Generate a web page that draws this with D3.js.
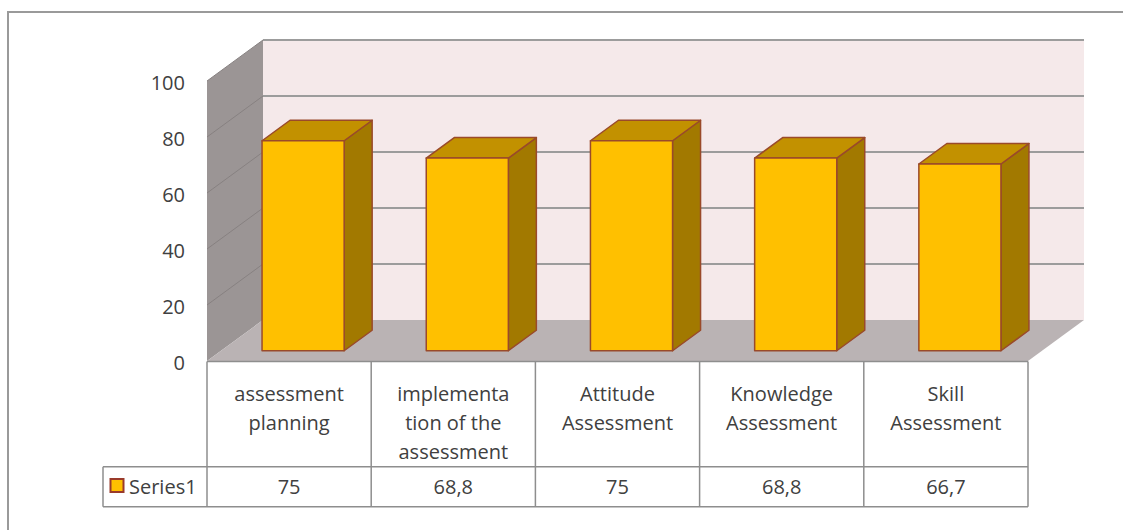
<!DOCTYPE html>
<html>
<head>
<meta charset="utf-8">
<script src="https://cdn.jsdelivr.net/npm/d3@7"></script>
<style>
  body { margin: 0; background: #fff; }
  svg { display: block; font-family: "Open Sans", sans-serif; }
  text { fill: #404040; }
</style>
</head>
<body>
<svg id="chart" width="1123" height="530"></svg>
<script>
const categories = ['assessment planning', 'implementation of the assessment', 'Attitude Assessment', 'Knowledge Assessment', 'Skill Assessment'];
const categoryLines = [
  ['assessment', 'planning'],
  ['implementa', 'tion of the', 'assessment'],
  ['Attitude', 'Assessment'],
  ['Knowledge', 'Assessment'],
  ['Skill', 'Assessment']
];
const values = [75, 68.8, 75, 68.8, 66.7];
const valueLabels = ['75', '68,8', '75', '68,8', '66,7'];
const yTicks = [0, 20, 40, 60, 80, 100];
const seriesName = 'Series1';

const svg = d3.select('#chart');

// plot geometry (front plane + depth offset)
const left = 207, right = 1028, floorY = 361, topY = 81;
const depthX = 56, depthY = -41;

const x = d3.scaleBand().domain(categories).range([left, right]);
const xBar = d3.scaleBand().domain(categories).range([left, right]).paddingInner(0.5).paddingOuter(0.25);
const y = d3.scaleLinear().domain([0, 100]).range([floorY, topY]);

// project a point with depth z (0 = front, 1 = back wall)
const P = (px, v, z) => [px + z * depthX, y(v) + z * depthY];
const poly = pts => pts.map(p => p.join(',')).join(' ');

// outer frame
svg.append('rect')
  .attr('x', 8).attr('y', 12).attr('width', 1140).attr('height', 540)
  .attr('fill', 'none').attr('stroke', '#9a9a9a').attr('stroke-width', 2);

// back wall
svg.append('polygon')
  .attr('points', poly([P(left, 0, 1), P(right, 0, 1), P(right, 100, 1), P(left, 100, 1)]))
  .attr('fill', '#f5e9ea');

// side wall
svg.append('polygon')
  .attr('points', poly([P(left, 0, 0), P(left, 0, 1), P(left, 100, 1), P(left, 100, 0)]))
  .attr('fill', '#9b9595');

// floor
svg.append('polygon')
  .attr('points', poly([P(left, 0, 0), P(right, 0, 0), P(right, 0, 1), P(left, 0, 1)]))
  .attr('fill', '#bab3b4');

// gridlines on back and side walls
const grid = svg.append('g');
yTicks.filter(d => d > 0).forEach(v => {
  grid.append('line')
    .attr('x1', P(left, v, 1)[0]).attr('y1', P(left, v, 1)[1])
    .attr('x2', P(right, v, 1)[0]).attr('y2', P(right, v, 1)[1])
    .attr('stroke', '#9c9c9c').attr('stroke-width', 2);
  grid.append('line')
    .attr('x1', P(left, v, 0)[0]).attr('y1', P(left, v, 0)[1])
    .attr('x2', P(left, v, 1)[0]).attr('y2', P(left, v, 1)[1])
    .attr('stroke', '#878181').attr('stroke-width', 1);
});

// bars
const z0 = 0.25, z1 = 0.75;
const barStroke = '#9a4a2a';
const bars = svg.append('g').selectAll('g')
  .data(categories.map((c, i) => ({ c, v: values[i] })))
  .join('g');

bars.append('polygon')
  .attr('points', d => {
    const x0 = xBar(d.c), x1 = x0 + xBar.bandwidth();
    return poly([P(x1, 0, z0), P(x1, 0, z1), P(x1, d.v, z1), P(x1, d.v, z0)]);
  })
  .attr('fill', '#a27900').attr('stroke', barStroke).attr('stroke-width', 1.5).attr('stroke-linejoin', 'round');

bars.append('polygon')
  .attr('points', d => {
    const x0 = xBar(d.c), x1 = x0 + xBar.bandwidth();
    return poly([P(x0, d.v, z0), P(x1, d.v, z0), P(x1, d.v, z1), P(x0, d.v, z1)]);
  })
  .attr('fill', '#c29100').attr('stroke', barStroke).attr('stroke-width', 1.5).attr('stroke-linejoin', 'round');

bars.append('polygon')
  .attr('points', d => {
    const x0 = xBar(d.c), x1 = x0 + xBar.bandwidth();
    return poly([P(x0, 0, z0), P(x1, 0, z0), P(x1, d.v, z0), P(x0, d.v, z0)]);
  })
  .attr('fill', '#ffc000').attr('stroke', barStroke).attr('stroke-width', 1.5).attr('stroke-linejoin', 'round');

// y axis labels
const yAxis = svg.append('g')
  .attr('transform', `translate(${left},2)`)
  .call(d3.axisLeft(y).tickValues(yTicks).tickSize(0).tickPadding(22));
yAxis.select('.domain').remove();
yAxis.selectAll('text').style('font-size', '20px').style('font-family', '"Open Sans", sans-serif').attr('fill', '#404040');

// data table
const rowTop = floorY + 0.5, rowMid = 466.7, rowBot = 506.7, legendLeft = 103;
const table = svg.append('g').attr('stroke', '#8e8e8e').attr('stroke-width', 1.5).attr('fill', 'none');
table.append('line').attr('x1', left).attr('x2', right).attr('y1', rowTop).attr('y2', rowTop);
table.append('line').attr('x1', legendLeft).attr('x2', right).attr('y1', rowMid).attr('y2', rowMid);
table.append('line').attr('x1', legendLeft).attr('x2', right).attr('y1', rowBot).attr('y2', rowBot);
table.append('line').attr('x1', legendLeft).attr('x2', legendLeft).attr('y1', rowMid).attr('y2', rowBot);
categories.forEach(c => {
  table.append('line').attr('x1', x(c)).attr('x2', x(c)).attr('y1', rowTop).attr('y2', rowBot);
});
table.append('line').attr('x1', right).attr('x2', right).attr('y1', rowTop).attr('y2', rowBot);

// category labels
const catText = svg.append('g').style('font-size', '20px').attr('text-anchor', 'middle');
categories.forEach((c, i) => {
  const t = catText.append('text').attr('x', x(c) + x.bandwidth() / 2).attr('y', 401);
  categoryLines[i].forEach((line, j) => {
    t.append('tspan').attr('x', x(c) + x.bandwidth() / 2).attr('y', 401 + j * 29).text(line);
  });
});

// value labels
svg.append('g').style('font-size', '20px').attr('text-anchor', 'middle')
  .selectAll('text').data(categories).join('text')
  .attr('x', d => x(d) + x.bandwidth() / 2)
  .attr('y', 494)
  .text((d, i) => valueLabels[i]);

// legend key
svg.append('rect')
  .attr('x', 110.5).attr('y', 479).attr('width', 13).attr('height', 13)
  .attr('fill', '#ffc000').attr('stroke', '#9a3a2a').attr('stroke-width', 2);
svg.append('text')
  .attr('x', 129).attr('y', 494)
  .style('font-size', '20px')
  .text(seriesName);
</script>
</body>
</html>
